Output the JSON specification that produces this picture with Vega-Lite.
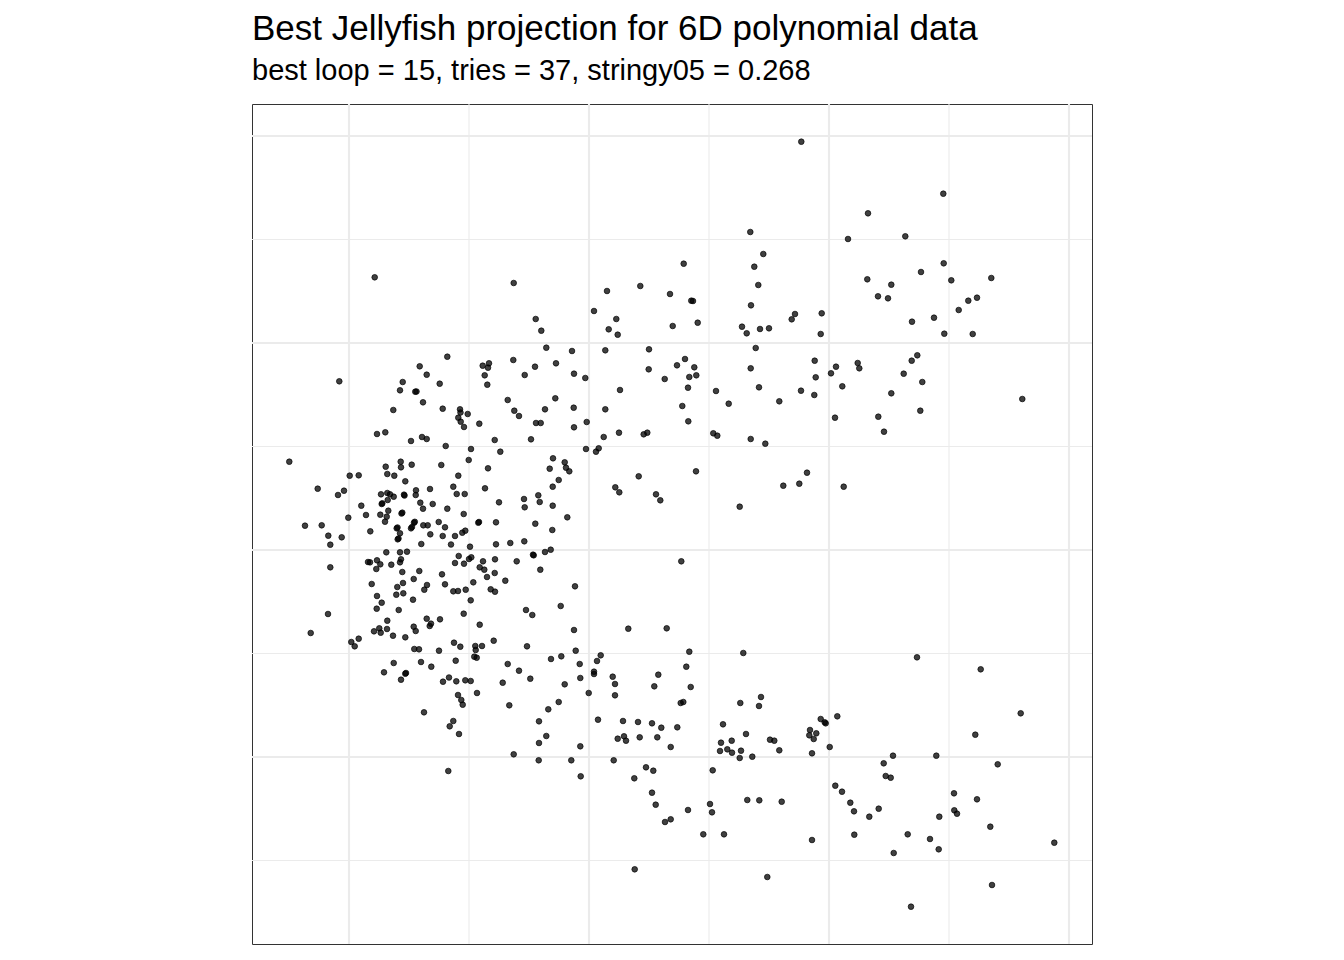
{
  "$schema": "https://vega.github.io/schema/vega-lite/v6.json",
  "width": 840,
  "height": 840,
  "autosize": {"type": "none"},
  "padding": {"left": 252, "top": 104, "right": 252, "bottom": 16},
  "background": "white",
  "config": {
    "view": {"stroke": "#333333", "strokeWidth": 1},
    "font": "Liberation Sans"
  },
  "title": {
    "text": "Best Jellyfish projection for 6D polynomial data",
    "subtitle": "best loop = 15, tries = 37, stringy05 = 0.268",
    "anchor": "start",
    "frame": "group",
    "font": "Liberation Sans",
    "fontSize": 35,
    "fontWeight": "normal",
    "color": "black",
    "subtitleFont": "Liberation Sans",
    "subtitleFontSize": 29,
    "subtitleColor": "black",
    "subtitlePadding": 10,
    "offset": 17
  },
  "datasets": {
    "points": [
      {"x": -1.417, "y": 1.933}, {"x": -1.693, "y": 1.837}, {"x": -1.623, "y": 1.753}, {"x": -1.863, "y": 1.68},
      {"x": -2.497, "y": 1.687}, {"x": -1.493, "y": 1.663}, {"x": -1.89, "y": 1.597}, {"x": -1.737, "y": 1.583},
      {"x": -1.725, "y": 1.585}, {"x": -1.66, "y": 1.477}, {"x": -1.463, "y": 1.413}, {"x": -1.957, "y": 1.4},
      {"x": -2.12, "y": 1.16}, {"x": -2.037, "y": 1.177}, {"x": -1.78, "y": 1.09}, {"x": -1.67, "y": 1.13},
      {"x": -1.623, "y": 1.11}, {"x": -1.433, "y": 1.04}, {"x": -2.997, "y": 0.883}, {"x": -1.883, "y": 0.883},
      {"x": -2.033, "y": 0.833}, {"x": -1.88, "y": 0.827}, {"x": -1.773, "y": 0.853}, {"x": -1.477, "y": 0.85},
      {"x": -2.393, "y": 0.743}, {"x": -2.303, "y": 0.747}, {"x": -2.017, "y": 0.76}, {"x": -1.947, "y": 0.743},
      {"x": -1.837, "y": 0.687}, {"x": -2.713, "y": 0.613}, {"x": -2.45, "y": 0.593}, {"x": -2.51, "y": 0.55},
      {"x": -2.08, "y": 0.557}, {"x": -2.017, "y": 0.57}, {"x": -1.99, "y": 0.557}, {"x": -1.953, "y": 0.533},
      {"x": -2.013, "y": 0.5}, {"x": -1.85, "y": 0.553}, {"x": -1.845, "y": 0.545}, {"x": -1.73, "y": 0.597},
      {"x": -1.733, "y": 0.55}, {"x": -1.59, "y": 0.61}, {"x": -1.687, "y": 0.473}, {"x": -1.563, "y": 0.46},
      {"x": -1.66, "y": 0.413}, {"x": -1.417, "y": 0.413}, {"x": -2.277, "y": 0.443}, {"x": -2.073, "y": 0.46},
      {"x": -2.067, "y": 0.467}, {"x": -2.23, "y": 0.35}, {"x": -2.087, "y": 0.353}, {"x": -2.007, "y": 0.393},
      {"x": -2.023, "y": 0.333}, {"x": -1.867, "y": 0.373}, {"x": -1.875, "y": 0.365}, {"x": -2.407, "y": 0.323},
      {"x": -2.84, "y": 0.243}, {"x": -2.673, "y": 0.247}, {"x": -2.607, "y": 0.143}, {"x": -2.473, "y": 0.127},
      {"x": -2.587, "y": 0.053}, {"x": -2.187, "y": 0.187}, {"x": -2.04, "y": 0.283}, {"x": -1.923, "y": 0.217},
      {"x": -1.915, "y": 0.225}, {"x": -1.89, "y": 0.167}, {"x": -1.913, "y": 0.107}, {"x": -1.905, "y": 0.115},
      {"x": -1.78, "y": 0.217}, {"x": -1.77, "y": 0.23}, {"x": -1.75, "y": 0.273}, {"x": -1.742, "y": 0.282},
      {"x": -1.657, "y": 0.247}, {"x": -1.613, "y": 0.247}, {"x": -1.503, "y": 0.28}, {"x": -1.44, "y": 0.227},
      {"x": -1.587, "y": 0.157}, {"x": -1.463, "y": 0.14}, {"x": -1.677, "y": 0.06}, {"x": -1.38, "y": 0.055},
      {"x": -2.027, "y": -0.023}, {"x": -1.89, "y": -0.023}, {"x": -1.82, "y": -0.017}, {"x": -2.21, "y": -0.12},
      {"x": -2.19, "y": -0.123}, {"x": -2.12, "y": -0.103}, {"x": -2.087, "y": -0.143}, {"x": -2.127, "y": -0.19},
      {"x": -1.977, "y": -0.147}, {"x": -1.89, "y": -0.123}, {"x": -1.88, "y": -0.093}, {"x": -2.587, "y": -0.173},
      {"x": -1.867, "y": -0.22}, {"x": -1.697, "y": -0.21}, {"x": -1.47, "y": -0.243}, {"x": -1.753, "y": -0.29},
      {"x": -1.44, "y": -0.343}, {"x": -2.173, "y": -0.34}, {"x": -1.86, "y": -0.33}, {"x": -1.917, "y": -0.37},
      {"x": -1.62, "y": -0.35}, {"x": -1.647, "y": -0.397}, {"x": -2.12, "y": -0.46}, {"x": -1.927, "y": -0.447},
      {"x": -1.857, "y": -0.433}, {"x": -1.76, "y": -0.497}, {"x": -2.073, "y": -0.527}, {"x": -2.123, "y": -0.587},
      {"x": -1.903, "y": -0.6}, {"x": -2.61, "y": -0.64}, {"x": -2.017, "y": -0.707}, {"x": -1.623, "y": -0.687},
      {"x": -1.49, "y": -0.693}, {"x": -1.58, "y": -0.737}, {"x": -1.593, "y": -0.76}, {"x": -1.753, "y": -0.767},
      {"x": -1.733, "y": -0.81}, {"x": -2.097, "y": -0.783}, {"x": -2.15, "y": -0.813}, {"x": -2.083, "y": -0.827},
      {"x": -2.02, "y": -0.79}, {"x": -1.96, "y": -0.857}, {"x": -1.837, "y": -0.873}, {"x": -2.783, "y": -0.83},
      {"x": -2.303, "y": -0.887}, {"x": -2.377, "y": -0.92}, {"x": -2.343, "y": -0.963}, {"x": -1.747, "y": -0.99},
      {"x": -1.7, "y": -0.993}, {"x": -1.5, "y": -1.007}, {"x": -1.953, "y": -1.13}, {"x": -1.68, "y": -1.12},
      {"x": -1.577, "y": -1.167}, {"x": -2.05, "y": -1.223}, {"x": -1.837, "y": -1.237}, {"x": -1.83, "y": -1.23},
      {"x": -1.88, "y": -1.297}, {"x": -1.46, "y": -1.317}, {"x": -1.4, "y": -1.275}, {"x": -1.65, "y": -1.623},
      {"x": -0.427, "y": 2.023}, {"x": -0.17, "y": 1.99}, {"x": 0.163, "y": 1.997}, {"x": -1.063, "y": 1.843},
      {"x": -1.0, "y": 1.867}, {"x": -1.01, "y": 1.823}, {"x": -0.757, "y": 1.9}, {"x": -0.54, "y": 1.833},
      {"x": -0.33, "y": 1.867}, {"x": -1.043, "y": 1.747}, {"x": -0.643, "y": 1.75}, {"x": -0.15, "y": 1.763},
      {"x": -0.037, "y": 1.72}, {"x": -1.017, "y": 1.653}, {"x": 0.31, "y": 1.6}, {"x": -0.813, "y": 1.5},
      {"x": -0.337, "y": 1.517}, {"x": -1.29, "y": 1.407}, {"x": -1.285, "y": 1.375}, {"x": -1.213, "y": 1.36},
      {"x": -1.307, "y": 1.323}, {"x": -1.283, "y": 1.283}, {"x": -1.25, "y": 1.23}, {"x": -1.097, "y": 1.263},
      {"x": -0.747, "y": 1.393}, {"x": -0.7, "y": 1.34}, {"x": -0.44, "y": 1.407}, {"x": -0.153, "y": 1.423},
      {"x": 0.163, "y": 1.407}, {"x": -0.53, "y": 1.27}, {"x": -0.483, "y": 1.27}, {"x": -0.023, "y": 1.28},
      {"x": -0.15, "y": 1.227}, {"x": 0.3, "y": 1.173}, {"x": 0.147, "y": 1.13}, {"x": -0.943, "y": 1.1},
      {"x": -0.58, "y": 1.107}, {"x": -1.18, "y": 1.01}, {"x": -0.887, "y": 0.983}, {"x": -0.03, "y": 1.01},
      {"x": 0.097, "y": 1.017}, {"x": 0.07, "y": 0.983}, {"x": -1.203, "y": 0.9}, {"x": -0.36, "y": 0.917},
      {"x": -0.243, "y": 0.877}, {"x": -0.23, "y": 0.823}, {"x": -0.197, "y": 0.787}, {"x": -0.393, "y": 0.813},
      {"x": -1.01, "y": 0.817}, {"x": -1.307, "y": 0.743}, {"x": -1.357, "y": 0.633}, {"x": -1.323, "y": 0.56},
      {"x": -1.243, "y": 0.56}, {"x": -1.04, "y": 0.617}, {"x": -0.363, "y": 0.633}, {"x": -0.303, "y": 0.7},
      {"x": 0.263, "y": 0.627}, {"x": 0.303, "y": 0.577}, {"x": -0.9, "y": 0.477}, {"x": -0.65, "y": 0.51},
      {"x": -0.643, "y": 0.427}, {"x": -0.507, "y": 0.547}, {"x": -0.493, "y": 0.48}, {"x": -0.363, "y": 0.443},
      {"x": -1.253, "y": 0.36}, {"x": -0.217, "y": 0.327},
      {"x": -1.107, "y": 0.273}, {"x": -1.1, "y": 0.28}, {"x": -0.93, "y": 0.277}, {"x": -0.537, "y": 0.263},
      {"x": -1.34, "y": 0.14}, {"x": -1.267, "y": 0.173}, {"x": -1.237, "y": 0.193}, {"x": -1.19, "y": 0.033},
      {"x": -0.93, "y": 0.057}, {"x": -0.787, "y": 0.07}, {"x": -0.647, "y": 0.087}, {"x": -0.367, "y": 0.2},
      {"x": -1.303, "y": -0.06}, {"x": -1.34, "y": -0.13}, {"x": -1.25, "y": -0.137}, {"x": -1.2, "y": -0.09},
      {"x": -1.177, "y": -0.073}, {"x": -1.06, "y": -0.113}, {"x": -1.093, "y": -0.173}, {"x": -1.047, "y": -0.197},
      {"x": -0.94, "y": -0.093}, {"x": -0.943, "y": -0.23}, {"x": -1.02, "y": -0.27}, {"x": -0.723, "y": -0.113},
      {"x": -0.56, "y": -0.047}, {"x": -0.553, "y": -0.053}, {"x": -0.44, "y": -0.02}, {"x": -0.383, "y": 0.003},
      {"x": -0.487, "y": -0.197}, {"x": -1.157, "y": -0.323}, {"x": -0.837, "y": -0.307}, {"x": -1.357, "y": -0.413},
      {"x": -1.31, "y": -0.41}, {"x": -1.233, "y": -0.397}, {"x": -0.983, "y": -0.393}, {"x": -0.94, "y": -0.417},
      {"x": -0.14, "y": -0.363}, {"x": -1.183, "y": -0.503}, {"x": -0.283, "y": -0.56}, {"x": -0.63, "y": -0.6},
      {"x": -0.567, "y": -0.65}, {"x": -1.253, "y": -0.637}, {"x": -1.093, "y": -0.747}, {"x": -0.15, "y": -0.8},
      {"x": 0.393, "y": -0.787}, {"x": -0.953, "y": -0.907}, {"x": -1.35, "y": -0.927}, {"x": -1.287, "y": -0.967},
      {"x": -1.137, "y": -0.96}, {"x": -1.07, "y": -0.96}, {"x": -1.133, "y": -1.0}, {"x": -0.62, "y": -0.963},
      {"x": -0.133, "y": -1.007}, {"x": -1.147, "y": -1.067}, {"x": -1.123, "y": -1.077}, {"x": -1.333, "y": -1.107},
      {"x": -0.813, "y": -1.14}, {"x": -0.7, "y": -1.207}, {"x": -0.38, "y": -1.09}, {"x": -0.277, "y": -1.063},
      {"x": -0.093, "y": -1.14}, {"x": 0.08, "y": -1.11}, {"x": 0.117, "y": -1.053}, {"x": 0.05, "y": -1.217},
      {"x": 0.05, "y": -1.24}, {"x": -1.327, "y": -1.313}, {"x": -1.237, "y": -1.303}, {"x": -1.183, "y": -1.31},
      {"x": -0.863, "y": -1.327}, {"x": -0.587, "y": -1.287}, {"x": -0.087, "y": -1.28}, {"x": 0.237, "y": -1.267},
      {"x": 0.26, "y": -1.34}, {"x": -0.243, "y": -1.343}, {"x": -1.12, "y": -1.43}, {"x": -1.31, "y": -1.45},
      {"x": -1.277, "y": -1.5}, {"x": -1.263, "y": -1.547}, {"x": -0.797, "y": -1.553}, {"x": -0.303, "y": -1.52},
      {"x": -0.003, "y": -1.43}, {"x": 0.26, "y": -1.453}, {"x": -0.407, "y": -1.593},
      {"x": -2.143, "y": 2.727}, {"x": -0.753, "y": 2.67}, {"x": -0.533, "y": 2.31}, {"x": -0.477, "y": 2.193},
      {"x": 0.05, "y": 2.39}, {"x": 0.18, "y": 2.59}, {"x": 0.513, "y": 2.64}, {"x": 0.273, "y": 2.31},
      {"x": 0.197, "y": 2.207}, {"x": 0.287, "y": 2.153},
      {"x": 2.123, "y": 4.083}, {"x": 2.79, "y": 3.367}, {"x": 1.613, "y": 3.18}, {"x": 2.59, "y": 3.11},
      {"x": 1.743, "y": 2.96}, {"x": 0.947, "y": 2.863}, {"x": 1.653, "y": 2.833}, {"x": 2.783, "y": 2.707},
      {"x": 1.693, "y": 2.65}, {"x": 0.81, "y": 2.56}, {"x": 1.023, "y": 2.493}, {"x": 1.04, "y": 2.49},
      {"x": 1.62, "y": 2.447}, {"x": 0.837, "y": 2.24}, {"x": 1.087, "y": 2.273}, {"x": 1.53, "y": 2.233},
      {"x": 1.577, "y": 2.167}, {"x": 1.71, "y": 2.21}, {"x": 1.8, "y": 2.217}, {"x": 2.027, "y": 2.307},
      {"x": 2.06, "y": 2.36}, {"x": 2.327, "y": 2.367}, {"x": 2.317, "y": 2.16},
      {"x": 3.543, "y": 3.563}, {"x": 3.163, "y": 3.137}, {"x": 3.547, "y": 2.867}, {"x": 3.32, "y": 2.78},
      {"x": 3.623, "y": 2.697}, {"x": 4.023, "y": 2.72}, {"x": 3.023, "y": 2.653}, {"x": 2.89, "y": 2.537},
      {"x": 2.99, "y": 2.517}, {"x": 3.793, "y": 2.493}, {"x": 3.88, "y": 2.523}, {"x": 3.697, "y": 2.4},
      {"x": 3.23, "y": 2.283}, {"x": 3.45, "y": 2.323}, {"x": 3.553, "y": 2.163}, {"x": 3.837, "y": 2.16},
      {"x": 0.6, "y": 2.007}, {"x": 1.667, "y": 2.02}, {"x": 0.96, "y": 1.91}, {"x": 0.88, "y": 1.847},
      {"x": 1.053, "y": 1.827}, {"x": 0.597, "y": 1.807}, {"x": 1.003, "y": 1.73}, {"x": 1.073, "y": 1.747},
      {"x": 0.757, "y": 1.71}, {"x": 0.99, "y": 1.623}, {"x": 0.933, "y": 1.44}, {"x": 0.993, "y": 1.287},
      {"x": 0.547, "y": 1.157}, {"x": 0.583, "y": 1.173}, {"x": 1.27, "y": 1.59}, {"x": 1.397, "y": 1.463},
      {"x": 1.617, "y": 1.817}, {"x": 1.7, "y": 1.627}, {"x": 1.903, "y": 1.487}, {"x": 2.12, "y": 1.593},
      {"x": 2.257, "y": 1.893}, {"x": 2.267, "y": 1.727}, {"x": 2.253, "y": 1.55}, {"x": 2.42, "y": 1.767},
      {"x": 2.47, "y": 1.833}, {"x": 2.687, "y": 1.87}, {"x": 2.703, "y": 1.817}, {"x": 2.533, "y": 1.637},
      {"x": 2.46, "y": 1.323}, {"x": 1.243, "y": 1.167}, {"x": 1.283, "y": 1.143}, {"x": 1.617, "y": 1.11},
      {"x": 1.763, "y": 1.063}, {"x": 0.497, "y": 0.737}, {"x": 1.07, "y": 0.787}, {"x": 0.67, "y": 0.557},
      {"x": 0.713, "y": 0.497}, {"x": 1.507, "y": 0.433}, {"x": 1.943, "y": 0.643}, {"x": 2.103, "y": 0.663},
      {"x": 2.18, "y": 0.773}, {"x": 2.547, "y": 0.633},
      {"x": 3.283, "y": 1.947}, {"x": 3.227, "y": 1.893}, {"x": 3.147, "y": 1.763}, {"x": 3.333, "y": 1.68},
      {"x": 3.023, "y": 1.567}, {"x": 4.333, "y": 1.51}, {"x": 3.313, "y": 1.393}, {"x": 2.893, "y": 1.333},
      {"x": 2.95, "y": 1.183},
      {"x": 0.923, "y": -0.113}, {"x": 0.777, "y": -0.783}, {"x": 1.003, "y": -1.017}, {"x": 1.543, "y": -1.03},
      {"x": 0.973, "y": -1.167}, {"x": 0.693, "y": -1.247}, {"x": 0.653, "y": -1.363}, {"x": 1.017, "y": -1.37},
      {"x": 0.917, "y": -1.53}, {"x": 0.943, "y": -1.52}, {"x": 1.513, "y": -1.53}, {"x": 1.72, "y": -1.47},
      {"x": 1.7, "y": -1.56},
      {"x": -1.357, "y": -1.71}, {"x": -1.393, "y": -1.763}, {"x": -1.3, "y": -1.84}, {"x": -1.407, "y": -2.21},
      {"x": -0.5, "y": -1.713}, {"x": -0.427, "y": -1.86}, {"x": -0.5, "y": -1.93}, {"x": -0.753, "y": -2.043},
      {"x": -0.503, "y": -2.103}, {"x": -0.177, "y": -2.103}, {"x": -0.087, "y": -1.963}, {"x": -0.083, "y": -2.263},
      {"x": 0.09, "y": -1.697}, {"x": 0.34, "y": -1.71}, {"x": 0.49, "y": -1.72}, {"x": 0.63, "y": -1.733},
      {"x": 0.723, "y": -1.777}, {"x": 0.883, "y": -1.773}, {"x": 0.287, "y": -1.887}, {"x": 0.35, "y": -1.863},
      {"x": 0.37, "y": -1.907}, {"x": 0.507, "y": -1.873}, {"x": 0.683, "y": -1.873}, {"x": 0.817, "y": -1.97},
      {"x": 0.247, "y": -2.103}, {"x": 0.57, "y": -2.173}, {"x": 0.643, "y": -2.207}, {"x": 0.453, "y": -2.283},
      {"x": 0.63, "y": -2.427}, {"x": 0.667, "y": -2.547}, {"x": 0.76, "y": -2.72}, {"x": 0.817, "y": -2.693},
      {"x": 0.99, "y": -2.6}, {"x": 1.143, "y": -2.843}, {"x": 1.35, "y": -2.843}, {"x": 1.21, "y": -2.54},
      {"x": 1.23, "y": -2.623}, {"x": 1.237, "y": -2.203}, {"x": 0.457, "y": -3.193}, {"x": 1.34, "y": -1.743},
      {"x": 1.57, "y": -1.84}, {"x": 1.32, "y": -1.927}, {"x": 1.427, "y": -1.907}, {"x": 1.31, "y": -2.01},
      {"x": 1.383, "y": -1.993}, {"x": 1.43, "y": -2.027}, {"x": 1.52, "y": -2.007}, {"x": 1.507, "y": -2.08},
      {"x": 1.633, "y": -2.067}, {"x": 1.81, "y": -1.897}, {"x": 1.853, "y": -1.907}, {"x": 1.903, "y": -2.003},
      {"x": 1.583, "y": -2.5}, {"x": 1.703, "y": -2.503}, {"x": 1.927, "y": -2.517}, {"x": 1.783, "y": -3.27},
      {"x": 2.21, "y": -1.8}, {"x": 2.203, "y": -1.853}, {"x": 2.273, "y": -1.833}, {"x": 2.247, "y": -1.89},
      {"x": 2.317, "y": -1.69}, {"x": 2.357, "y": -1.723}, {"x": 2.367, "y": -1.733}, {"x": 2.483, "y": -1.663},
      {"x": 2.407, "y": -1.97}, {"x": 2.23, "y": -2.033}, {"x": 2.463, "y": -2.357}, {"x": 2.53, "y": -2.417},
      {"x": 2.613, "y": -2.527}, {"x": 2.65, "y": -2.613}, {"x": 2.653, "y": -2.847}, {"x": 2.23, "y": -2.9},
      {"x": 3.28, "y": -1.073}, {"x": 3.917, "y": -1.193}, {"x": 4.317, "y": -1.633}, {"x": 3.863, "y": -1.847},
      {"x": 3.04, "y": -2.057}, {"x": 3.473, "y": -2.057}, {"x": 4.087, "y": -2.143}, {"x": 2.947, "y": -2.133},
      {"x": 2.967, "y": -2.26}, {"x": 3.017, "y": -2.277}, {"x": 3.65, "y": -2.433}, {"x": 3.88, "y": -2.493},
      {"x": 2.897, "y": -2.587}, {"x": 2.803, "y": -2.667}, {"x": 3.503, "y": -2.667}, {"x": 3.653, "y": -2.603},
      {"x": 3.68, "y": -2.637}, {"x": 4.013, "y": -2.767}, {"x": 3.187, "y": -2.843}, {"x": 3.41, "y": -2.89},
      {"x": 3.497, "y": -2.993}, {"x": 3.047, "y": -3.03}, {"x": 4.653, "y": -2.927}, {"x": 4.03, "y": -3.35},
      {"x": 3.22, "y": -3.567}
    ]
  },
  "layer": [
    {
      "data": {"values": [{"gx": -1.2}, {"gx": 1.2}, {"gx": 3.6}]},
      "mark": {"type": "rule", "color": "#EBEBEB", "strokeWidth": 1.1},
      "encoding": {
        "x": {"field": "gx", "type": "quantitative", "scale": {"domain": [-3.37, 5.03], "nice": false, "zero": false}, "axis": null}
      }
    },
    {
      "data": {"values": [{"gy": 3.105}, {"gy": 1.035}, {"gy": -1.035}, {"gy": -3.105}]},
      "mark": {"type": "rule", "color": "#EBEBEB", "strokeWidth": 1.1},
      "encoding": {
        "y": {"field": "gy", "type": "quantitative", "scale": {"domain": [-3.94, 4.46], "nice": false, "zero": false}, "axis": null}
      }
    },
    {
      "data": {"values": [{"gx": -2.4}, {"gx": 0}, {"gx": 2.4}, {"gx": 4.8}]},
      "mark": {"type": "rule", "color": "#EBEBEB", "strokeWidth": 2.1},
      "encoding": {
        "x": {"field": "gx", "type": "quantitative", "scale": {"domain": [-3.37, 5.03], "nice": false, "zero": false}, "axis": null}
      }
    },
    {
      "data": {"values": [{"gy": 4.14}, {"gy": 2.07}, {"gy": 0}, {"gy": -2.07}]},
      "mark": {"type": "rule", "color": "#EBEBEB", "strokeWidth": 2.1},
      "encoding": {
        "y": {"field": "gy", "type": "quantitative", "scale": {"domain": [-3.94, 4.46], "nice": false, "zero": false}, "axis": null}
      }
    },
    {
      "data": {"name": "points"},
      "mark": {
        "type": "circle",
        "size": 32,
        "fill": "black",
        "fillOpacity": 0.75,
        "stroke": "black",
        "strokeWidth": 0.8,
        "strokeOpacity": 0.85
      },
      "encoding": {
        "x": {"field": "x", "type": "quantitative", "scale": {"domain": [-3.37, 5.03], "nice": false, "zero": false}, "axis": null},
        "y": {"field": "y", "type": "quantitative", "scale": {"domain": [-3.94, 4.46], "nice": false, "zero": false}, "axis": null}
      }
    }
  ]
}
